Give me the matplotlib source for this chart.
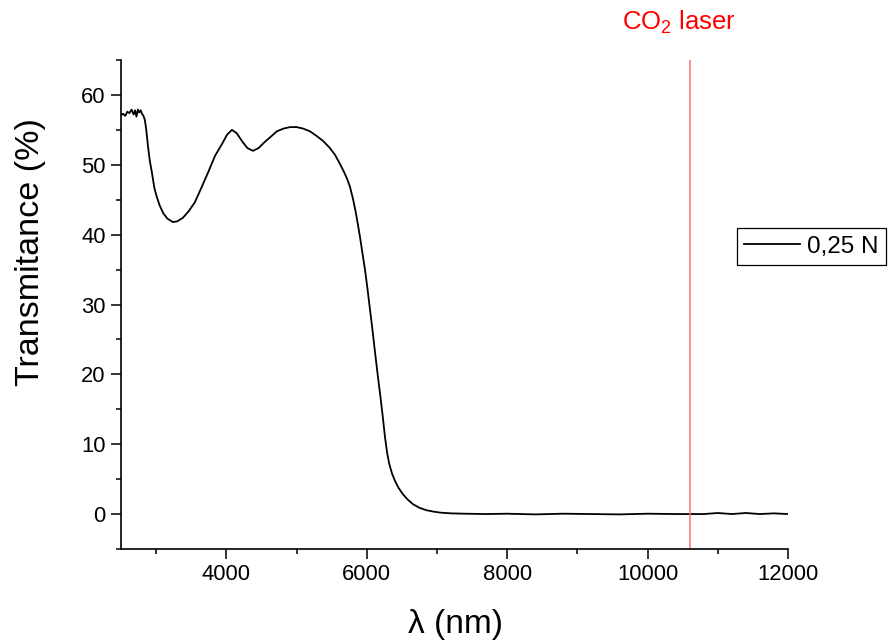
import matplotlib
matplotlib.use('Agg')
import matplotlib.pyplot as plt
from matplotlib.ticker import MultipleLocator

plt.rcParams['font.family'] = ['Liberation Sans', 'DejaVu Sans']
plt.rcParams['mathtext.default'] = 'regular'

# transmittance spectrum, 0.25 N sample
wavelength = [2500, 2530, 2560, 2590, 2620, 2650, 2680, 2700, 2720, 2740,
              2760, 2780, 2800, 2820, 2840, 2860, 2885, 2910, 2940, 2975,
              3010, 3050, 3100, 3160, 3240, 3300, 3380, 3460, 3550, 3640,
              3740, 3840, 3940, 4010, 4080, 4150, 4230, 4300, 4380, 4460,
              4540, 4620, 4720, 4820, 4910, 5000, 5090, 5190, 5290, 5380,
              5475, 5550, 5620, 5680, 5720, 5760, 5800, 5840, 5875, 5905,
              5935, 5975, 6010, 6045, 6080, 6120, 6160, 6195, 6230, 6260,
              6290, 6320, 6360, 6400, 6450, 6510, 6580, 6660, 6750, 6850,
              6950, 7050, 7200, 7400, 7700, 8000, 8400, 8800, 9200, 9600,
              10000, 10400, 10800, 11000, 11200, 11400, 11600, 11800, 12000]
transmittance = [57.1, 57.3, 57.0, 57.6, 57.4, 57.9, 57.2, 57.8, 56.9, 57.9,
                 57.5, 57.8, 57.3, 57.0, 56.4, 55.0, 52.6, 50.6, 48.9, 46.7,
                 45.4, 44.2, 43.1, 42.3, 41.8, 41.9, 42.4, 43.3, 44.6, 46.6,
                 48.9, 51.3, 53.0, 54.3, 55.0, 54.5, 53.3, 52.4, 52.0, 52.4,
                 53.2, 53.9, 54.8, 55.2, 55.4, 55.4, 55.2, 54.8, 54.1, 53.4,
                 52.4, 51.4, 50.1, 48.9, 48.0, 46.9, 45.3, 43.4, 41.4, 39.6,
                 37.6, 35.0, 32.3, 29.4, 26.5, 23.0, 19.6, 16.8, 13.8, 11.0,
                 8.8, 7.2, 5.8, 4.8, 3.8, 2.9, 2.1, 1.4, 0.9, 0.55,
                 0.35, 0.2, 0.1, 0.05, 0.0, 0.05, -0.05, 0.05, 0.0, -0.05,
                 0.05, 0.0, 0.0, 0.15, 0.0, 0.15, 0.0, 0.1, 0.0]

laser_wl = 10600
series_label = '0,25 N'

fig = plt.figure(figsize=(8.91, 6.42), dpi=100)
ax = fig.add_axes([0.1358, 0.1449, 0.7486, 0.7616])

ax.plot(wavelength, transmittance, color='black', lw=1.3, label=series_label)
ax.axvline(laser_wl, color='#ff7373', lw=1.1)

ax.set_xlim(2500, 12000)
ax.set_ylim(-5, 65)
ax.xaxis.set_major_locator(MultipleLocator(2000))
ax.xaxis.set_minor_locator(MultipleLocator(1000))
ax.yaxis.set_major_locator(MultipleLocator(10))
ax.yaxis.set_minor_locator(MultipleLocator(5))

for side in ['top', 'right']:
    ax.spines[side].set_visible(False)
for side in ['left', 'bottom']:
    ax.spines[side].set_linewidth(1.2)

ax.tick_params(which='major', direction='out', length=7, width=1.1, labelsize=15.8, pad=4)
ax.tick_params(which='minor', direction='out', length=3.5, width=1.1)

# axis titles placed on the figure
fig.text(455 / 891, 1 - 625 / 642, 'λ (nm)', fontsize=24, ha='center', va='center')
fig.text(31 / 891, 1 - 252 / 642, 'Transmitance (%)', fontsize=24.5,
         rotation=90, ha='center', va='center')

fig.text(679 / 891, 1 - 22 / 642, 'CO$_2$ laser', color='red', fontsize=18.5,
         ha='center', va='center')

leg = ax.legend(loc='center left', bbox_to_anchor=(0.827, 0.616),
                bbox_transform=fig.transFigure, borderaxespad=0,
                fontsize=17.5, handlelength=2.3, handletextpad=0.3,
                fancybox=False, framealpha=1, borderpad=0.3)
leg.get_frame().set_edgecolor('black')
leg.get_frame().set_linewidth(0.9)

plt.savefig('out.png', dpi=100)
